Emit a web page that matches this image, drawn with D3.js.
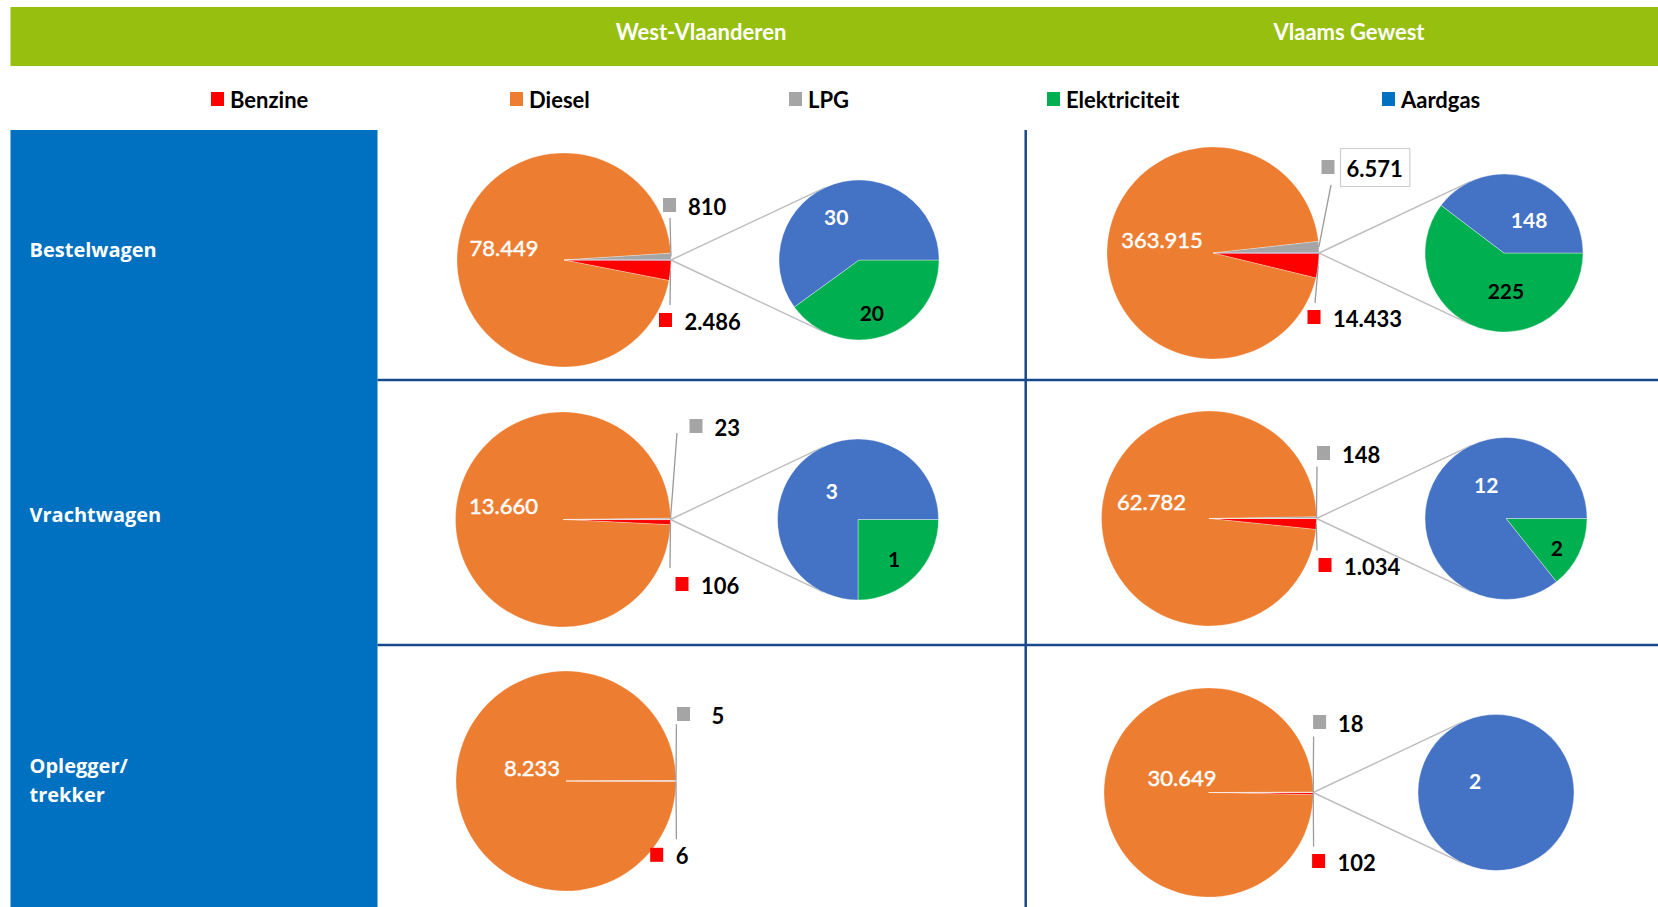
<!DOCTYPE html>
<html>
<head>
<meta charset="utf-8">
<script src="https://cdn.jsdelivr.net/npm/d3@7"></script>
<style>
body { margin: 0; background: #fff; }
svg { display: block; }
text { font-family: Lato, "Open Sans", sans-serif; }
</style>
</head>
<body>
<div id="chart"></div>
<script>
// ---- data ----
var regions = ["West-Vlaanderen", "Vlaams Gewest"];
var vehicleTypes = [["Bestelwagen"], ["Vrachtwagen"], ["Oplegger/", "trekker"]];
var fuels = ["Benzine", "Diesel", "LPG", "Elektriciteit", "Aardgas"];
// per vehicle type: [West-Vlaanderen, Vlaams Gewest]
var benzine = [[2486, 14433], [106, 1034], [6, 102]];
var diesel = [[78449, 363915], [13660, 62782], [8233, 30649]];
var lpg = [[810, 6571], [23, 148], [5, 18]];
var elektriciteit = [[20, 225], [1, 2], [0, 0]];
var aardgas = [[30, 148], [3, 12], [0, 2]];

// ---- colours ----
var legendColors = ["#FF0000", "#ED7D31", "#A5A5A5", "#00B050", "#0070C0"];
var pieColors = { benzine: "#FF0000", diesel: "#ED7D31", lpg: "#A5A5A5", elek: "#00B050", aard: "#4472C4" };

// ---- layout ----
var W = 1658, H = 907;
var headerX = [701, 1349];
var legendX = [211, 510, 789, 1047, 1382];
var rowLabelY = [248.5, 514, 765];
var gridX = 1025.7, gridRows = [380, 645];
var panelLeft = 377.5, panelTop = 130;

// pie placement per [row][region]; offsets are relative to the big pie centre
var panels = [
  [{cx: 564, cy: 260, r: 107, cx2: 859, r2: 80, dl: [-60, -13], lpgS: [105.5, -55], lpgL: [106, -42], benS: [101.5, 60], benL: [106, 45], n2: [[-2, 7], [-8, 2]]},
   {cx: 1213, cy: 253, r: 106, cx2: 1504, r2: 79, dl: [-51, -14], lpgS: [115, -86], lpgL: [118, -68], benS: [101, 64], benL: [102, 50], n2: [[17, -7], [10, 11]], box: true}],
  [{cx: 563, cy: 519.5, r: 107.5, cx2: 858, r2: 80.5, dl: [-59.5, -14], lpgS: [133, -93.5], lpgL: [114, -86.5], benS: [119, 64.5], benL: [107, 48.5], n2: [[2, 5], [8, 5]]},
   {cx: 1209, cy: 518.5, r: 107.5, cx2: 1506, r2: 81, dl: [-57.5, -17], lpgS: [114.5, -65.5], lpgL: [108, -52], benS: [116, 46.5], benL: [108, 32], n2: [[7, 8], [24, -13]]}],
  [{cx: 566, cy: 781, r: 110, cx2: null, r2: 0, dl: [-34, -14], lpgS: [117.5, -67], lpgL: [110.4, -56.7], benS: [90.7, 73.8], benL: [110.4, 58.3], lpgTx: 28},
   {cx: 1208.6, cy: 792.5, r: 104.6, cx2: 1496, r2: 78, dl: [-26.6, -15.4], lpgS: [111, -70.5], lpgL: [105, -56], benS: [110, 68.5], benL: [105, 54], n2: [[0, 0], [26, -12]]}]
];

var fmt = d3.formatLocale({decimal: ",", thousands: ".", grouping: [3], currency: ["€", ""]}).format(",d");

var svg = d3.select("#chart").append("svg")
    .attr("width", W)
    .attr("height", H);

// header band
svg.append("rect")
    .attr("x", 10.5).attr("y", 7)
    .attr("width", W - 10.5).attr("height", 59)
    .attr("fill", "#97BF10");

svg.selectAll("text.region")
    .data(regions)
    .enter().append("text")
    .attr("class", "region")
    .attr("x", function(d, i) { return headerX[i]; })
    .attr("y", 31)
    .attr("text-anchor", "middle")
    .attr("dominant-baseline", "central")
    .attr("fill", "#fff")
    .style("font-size", "22px")
    .style("font-weight", "bold")
    .text(function(d) { return d; });

// legend
var legend = svg.selectAll("g.legendEntry")
    .data(fuels)
    .enter().append("g")
    .attr("class", "legendEntry")
    .attr("transform", function(d, i) { return "translate(" + legendX[i] + ",99)"; });

legend.append("rect")
    .attr("x", 0).attr("y", -7)
    .attr("width", 13).attr("height", 14)
    .attr("fill", function(d, i) { return legendColors[i]; });

legend.append("text")
    .attr("x", 19)
    .attr("y", 0)
    .attr("dominant-baseline", "central")
    .style("font-size", "22px")
    .style("font-weight", "bold")
    .attr("fill", "#000")
    .text(function(d) { return d; });

// blue side panel with vehicle types
svg.append("rect")
    .attr("x", 10.5).attr("y", panelTop)
    .attr("width", panelLeft - 10.5).attr("height", H - panelTop)
    .attr("fill", "#0070C0");

vehicleTypes.forEach(function(lines, i) {
    var t = svg.append("text")
        .attr("x", 29.5)
        .attr("y", rowLabelY[i])
        .attr("dominant-baseline", "central")
        .attr("fill", "#fff")
        .style("font-family", "'Open Sans', sans-serif")
        .style("font-size", "20px")
        .style("font-weight", "bold");
    lines.forEach(function(l, j) {
        t.append("tspan").attr("x", 29.5).attr("dy", j ? 28.5 : 0).text(l);
    });
});

// grid lines
var gridColor = "#174A8B";
svg.append("line")
    .attr("x1", gridX).attr("x2", gridX)
    .attr("y1", panelTop).attr("y2", H)
    .attr("stroke", gridColor).attr("stroke-width", 2.5);
gridRows.forEach(function(y) {
    svg.append("line")
        .attr("x1", panelLeft).attr("x2", W)
        .attr("y1", y).attr("y2", y)
        .attr("stroke", gridColor).attr("stroke-width", 2.5);
});

// ---- pies ----
function drawPanel(row, col) {
    var p = panels[row][col];
    var ben = benzine[row][col], die = diesel[row][col], lp = lpg[row][col];
    var el = elektriciteit[row][col], aa = aardgas[row][col];
    var other = el + aa;
    var total = ben + die + lp + other;
    var otherA = other / total * 2 * Math.PI;
    var start = Math.PI / 2 + otherA / 2;

    var g = svg.append("g").attr("transform", "translate(" + p.cx + "," + p.cy + ")");

    var slices = [
        {key: "benzine", v: ben}, {key: "diesel", v: die},
        {key: "lpg", v: lp}, {key: "aard", v: other}
    ];
    var pie = d3.pie().sort(null).value(function(d) { return d.v; })
        .startAngle(start).endAngle(start + 2 * Math.PI);
    var arcs = pie(slices);
    var arc = d3.arc().innerRadius(0).outerRadius(p.r);
    var edge = d3.arc().innerRadius(p.r).outerRadius(p.r);

    g.selectAll("path.main")
        .data(arcs)
        .enter().append("path")
        .attr("class", "main")
        .attr("d", arc)
        .attr("fill", function(d) { return pieColors[d.data.key]; })
        .attr("stroke", "#fff")
        .attr("stroke-opacity", 0.45)
        .attr("stroke-width", 0.6);

    // second pie + connectors
    if (other > 0) {
        var dx2 = p.cx2 - p.cx;
        var px = p.r, d = dx2 - px;
        var th = Math.acos(p.r2 / d);
        var tx = dx2 - p.r2 * Math.cos(th), ty = p.r2 * Math.sin(th);
        [-1, 1].forEach(function(s) {
            g.append("line")
                .attr("x1", px).attr("y1", 0)
                .attr("x2", tx).attr("y2", s * ty)
                .attr("stroke", "#BDBDBD").attr("stroke-width", 1.4);
        });

        var g2 = g.append("g").attr("transform", "translate(" + dx2 + ",0)");
        var slices2 = [{key: "elek", v: el}, {key: "aard", v: aa}];
        var pie2 = d3.pie().sort(null).value(function(d) { return d.v; })
            .startAngle(Math.PI / 2).endAngle(Math.PI / 2 + 2 * Math.PI);
        var arcs2 = pie2(slices2);
        var arc2 = d3.arc().innerRadius(0).outerRadius(p.r2);
        g2.selectAll("path")
            .data(arcs2)
            .enter().append("path")
            .attr("d", arc2)
            .attr("fill", function(d) { return pieColors[d.data.key]; })
            .attr("stroke", "#fff")
            .attr("stroke-opacity", 0.6)
            .attr("stroke-width", 0.6);

        var lab2 = d3.arc().innerRadius(p.r2 * 0.6).outerRadius(p.r2 * 0.6);
        g2.selectAll("text")
            .data(arcs2.filter(function(d) { return d.data.v > 0; }))
            .enter().append("text")
            .attr("x", function(d) { return lab2.centroid(d)[0] + p.n2[d.index][0]; })
            .attr("y", function(d) { return lab2.centroid(d)[1] + p.n2[d.index][1]; })
            .attr("text-anchor", "middle")
            .attr("dominant-baseline", "central")
            .attr("fill", function(d) { return d.data.key === "aard" ? "#fff" : "#000"; })
            .style("font-size", "21px")
            .style("font-weight", "bold")
            .text(function(d) { return fmt(d.data.v); });
    }

    // leader lines
    [[arcs[2], p.lpgL], [arcs[0], p.benL]].forEach(function(a) {
        var e = edge.centroid(a[0]);
        g.append("line")
            .attr("x1", a[1][0]).attr("y1", a[1][1])
            .attr("x2", e[0]).attr("y2", e[1])
            .attr("stroke", "#9A9A9A").attr("stroke-width", 1.3);
    });

    // diesel label
    g.append("text")
        .attr("x", p.dl[0]).attr("y", p.dl[1])
        .attr("text-anchor", "middle")
        .attr("dominant-baseline", "central")
        .attr("fill", "#fff")
        .attr("stroke", "#fff")
        .attr("stroke-width", 0.5)
        .style("font-size", "22px")
        .text(fmt(die));

    // lpg + benzine labels
    [[p.lpgS, lp, pieColors.lpg, p.lpgTx || 18.5, p.box], [p.benS, ben, pieColors.benzine, 19, false]].forEach(function(l) {
        g.append("rect")
            .attr("x", l[0][0] - 6.5).attr("y", l[0][1] - 7)
            .attr("width", 13).attr("height", 14)
            .attr("fill", l[2]);
        var t = g.append("text")
            .attr("x", l[0][0] + l[3]).attr("y", l[0][1] + 1)
            .attr("dominant-baseline", "central")
            .attr("fill", "#000")
            .style("font-size", "22px")
            .style("font-weight", "bold")
            .text(fmt(l[1]));
        if (l[4]) {
            var bb = t.node().getBBox();
            g.insert("rect", function() { return t.node(); })
                .attr("x", bb.x - 6).attr("y", l[0][1] - 18.5)
                .attr("width", bb.width + 13).attr("height", 38)
                .attr("fill", "#fff")
                .attr("stroke", "#D0D0D0").attr("stroke-width", 1.2);
        }
    });
}

for (var row = 0; row < 3; row++) {
    for (var col = 0; col < 2; col++) drawPanel(row, col);
}
</script>
</body>
</html>
